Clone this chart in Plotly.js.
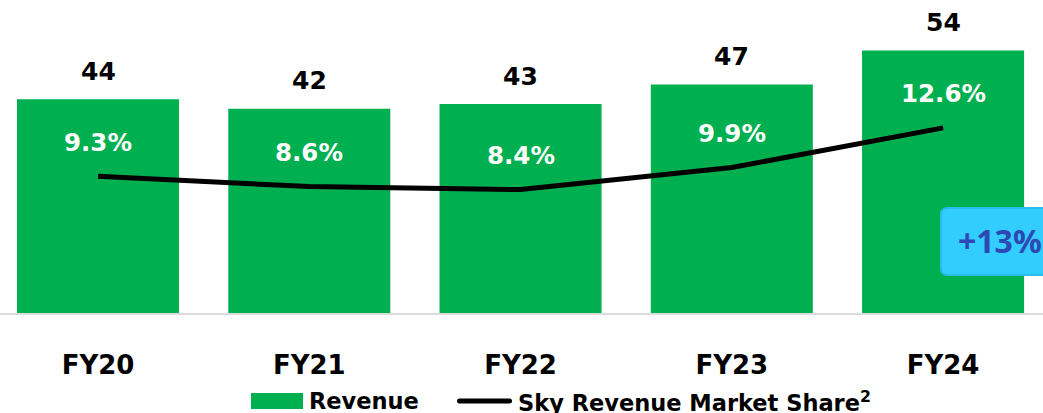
<!DOCTYPE html>
<html>
<head>
<meta charset="utf-8">
<script src="https://cdn.plot.ly/plotly-3.0.1.min.js"></script>
<style>html,body{margin:0;padding:0;background:#fff;}#chart{width:1043px;height:413px;}</style>
</head>
<body>
<div id="chart"></div>
<script>
const categories = ["FY20", "FY21", "FY22", "FY23", "FY24"];
const revenue = [44, 42, 43, 47, 54];
const marketShare = [9.3, 8.6, 8.4, 9.9, 12.6];
const shareLabels = ["9.3%", "8.6%", "8.4%", "9.9%", "12.6%"];
const growthLabel = "+13%";
const legendNames = ["Revenue", "Sky Revenue Market Share<sup>2</sup>"];

const FONT = "'DejaVu Sans', sans-serif";
const BFONT = "'Noto Sans', 'Open Sans', sans-serif";
const GREEN = "#00b050";
const W = 1043, PH = 313;
const px = x => x / W;
const py = y => (PH - y) / PH;

const traces = [
  {
    type: "bar", x: categories, y: revenue, marker: {color: GREEN},
    hoverinfo: "skip", showlegend: false
  },
  {
    type: "scatter", mode: "lines", x: categories, y: marketShare, yaxis: "y2",
    line: {color: "#000", width: 5}, hoverinfo: "skip", showlegend: false
  }
];

const annotations = [];
categories.forEach((c, i) => {
  annotations.push({
    x: c, y: revenue[i], xref: "x", yref: "y", text: String(revenue[i]),
    showarrow: false, yanchor: "middle", yshift: 28,
    font: {family: FONT, size: 25, color: "#000", weight: 700}
  });
  annotations.push({
    x: c, y: marketShare[i], xref: "x", yref: "y2", text: shareLabels[i],
    showarrow: false, yanchor: "middle", yshift: 34,
    font: {family: FONT, size: 24.5, color: "#fff", weight: 700}
  });
});
annotations.push({
  x: px(956), y: py(240), xref: "paper", yref: "paper", text: growthLabel,
  xanchor: "left", yanchor: "middle", showarrow: false,
  font: {family: BFONT, size: 32, color: "#2d49b3", weight: 700}
});
annotations.push({
  x: px(307), y: py(401), xref: "paper", yref: "paper", text: legendNames[0],
  xanchor: "left", yanchor: "middle", showarrow: false,
  font: {family: FONT, size: 22.5, color: "#000", weight: 700}
});
annotations.push({
  x: px(516), y: py(401), xref: "paper", yref: "paper", text: legendNames[1],
  xanchor: "left", yanchor: "middle", showarrow: false,
  font: {family: FONT, size: 22.5, color: "#000", weight: 700}
});

// rounded badge path in paper coords
function roundRect(x0, y0, x1, y1, r) {
  const X = v => px(v), Y = v => py(v);
  return `M ${X(x0 + r)} ${Y(y0)} L ${X(x1 - r)} ${Y(y0)} Q ${X(x1)} ${Y(y0)} ${X(x1)} ${Y(y0 + r)} ` +
         `L ${X(x1)} ${Y(y1 - r)} Q ${X(x1)} ${Y(y1)} ${X(x1 - r)} ${Y(y1)} ` +
         `L ${X(x0 + r)} ${Y(y1)} Q ${X(x0)} ${Y(y1)} ${X(x0)} ${Y(y1 - r)} ` +
         `L ${X(x0)} ${Y(y0 + r)} Q ${X(x0)} ${Y(y0)} ${X(x0 + r)} ${Y(y0)} Z`;
}

const shapes = [
  {type: "path", xref: "paper", yref: "paper", path: roundRect(941, 208, 1060, 275, 7),
   fillcolor: "#33ccff", line: {color: "#2bbde9", width: 2}, layer: "above"},
  {type: "rect", xref: "paper", yref: "paper", x0: px(251), x1: px(303), y0: py(409), y1: py(393),
   fillcolor: GREEN, line: {width: 0}},
  {type: "path", xref: "paper", yref: "paper", path: roundRect(457, 398.5, 512, 403.5, 2.5),
   fillcolor: "#000", line: {width: 0}}
];

const layout = {
  width: 1043, height: 413,
  margin: {l: 0, r: 0, t: 0, b: 100, pad: 0},
  paper_bgcolor: "#fff", plot_bgcolor: "#fff",
  bargap: 0.233,
  xaxis: {
    type: "category", range: [-0.464, 4.473], fixedrange: true,
    showline: true, linecolor: "#dcdcdc", linewidth: 2,
    showgrid: false, zeroline: false, ticks: "", ticklabelstandoff: 28,
    tickfont: {family: FONT, size: 26, color: "#000", weight: 700}
  },
  yaxis: {range: [0, 64.4], visible: false, showgrid: false, zeroline: false, fixedrange: true},
  yaxis2: {range: [0, 21.3], overlaying: "y", visible: false, showgrid: false, zeroline: false, fixedrange: true},
  showlegend: false,
  annotations: annotations,
  shapes: shapes
};

Plotly.newPlot("chart", traces, layout, {displayModeBar: false, staticPlot: true});
</script>
</body>
</html>
